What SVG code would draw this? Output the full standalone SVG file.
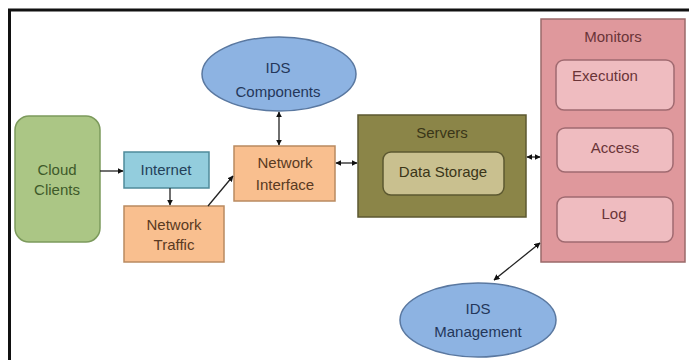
<svg xmlns="http://www.w3.org/2000/svg" width="689" height="360" viewBox="0 0 689 360">
<style>
text{font-family:"Liberation Sans",Arial,sans-serif;font-size:15px;text-anchor:middle}
.orange{fill:#f9bf8f;stroke:#b98a60;stroke-width:1.5}
.ell{fill:#8db3e2;stroke:#5a78a0;stroke-width:1.5}
.pinkin{fill:#efbcc0;stroke:#a06a70;stroke-width:1.5}
.conn{stroke:#222;stroke-width:1.3;fill:none}
.tOr{fill:#5a3a22}
.tBl{fill:#24375a}
.tPk{fill:#6a3438}
</style>
<defs>
<marker id="ah" viewBox="0 0 10 10" refX="9" refY="5" markerWidth="6" markerHeight="6" orient="auto-start-reverse" markerUnits="userSpaceOnUse">
<path d="M0,0 L10,5 L0,10 z" fill="#111"/>
</marker>
</defs>
<rect width="689" height="360" fill="#fff"/>
<path d="M9.5,362 V10 H692" fill="none" stroke="#111" stroke-width="3"/>

<g id="cloud-clients">
<rect x="15" y="116" width="85" height="126" rx="14" fill="#abc685" stroke="#7c9a5c" stroke-width="1.5"/>
<text x="57" y="175" fill="#3e5a2a">Cloud</text>
<text x="57" y="195" fill="#3e5a2a">Clients</text>
</g>
<g id="internet">
<rect x="124" y="152" width="85" height="36" fill="#93cddd" stroke="#4f8a9a" stroke-width="1.5"/>
<text x="166" y="175" fill="#24415a">Internet</text>
</g>
<g id="network-traffic">
<rect class="orange" x="124" y="206" width="100" height="56"/>
<text class="tOr" x="174" y="230">Network</text>
<text class="tOr" x="174" y="250">Traffic</text>
</g>
<g id="network-interface">
<rect class="orange" x="234" y="146" width="101" height="55"/>
<text class="tOr" x="285" y="168">Network</text>
<text class="tOr" x="285" y="190">Interface</text>
</g>
<g id="ids-components">
<ellipse class="ell" cx="279" cy="74" rx="77" ry="37"/>
<text class="tBl" x="278" y="73">IDS</text>
<text class="tBl" x="278" y="97">Components</text>
</g>
<g id="servers">
<rect x="358" y="115" width="168" height="102" fill="#8b8548" stroke="#5c5830" stroke-width="1.5"/>
<text x="442" y="138" fill="#3a3518">Servers</text>
</g>
<g id="data-storage">
<rect x="383" y="152" width="121" height="43" rx="8" fill="#c9c08f" stroke="#5c5830" stroke-width="1.5"/>
<text x="443" y="177" fill="#3a3518">Data Storage</text>
</g>
<g id="monitors">
<rect x="541" y="19" width="144" height="243" fill="#df989c" stroke="#9a6a6a" stroke-width="1.5"/>
<text class="tPk" x="613" y="42">Monitors</text>
</g>
<g id="execution">
<rect class="pinkin" x="556" y="60" width="118" height="50" rx="8"/>
<text class="tPk" x="605" y="81">Execution</text>
</g>
<g id="access">
<rect class="pinkin" x="557" y="128" width="116" height="44" rx="8"/>
<text class="tPk" x="615" y="153">Access</text>
</g>
<g id="log">
<rect class="pinkin" x="557" y="197" width="116" height="45" rx="8"/>
<text class="tPk" x="614" y="219">Log</text>
</g>
<g id="ids-management">
<ellipse class="ell" cx="478" cy="320" rx="78" ry="37"/>
<text class="tBl" x="478" y="314">IDS</text>
<text class="tBl" x="478" y="337">Management</text>
</g>

<g id="connectors">
<line class="conn" x1="100" y1="171" x2="123" y2="171" marker-end="url(#ah)"/>
<line class="conn" x1="170" y1="188" x2="170" y2="205" marker-end="url(#ah)"/>
<line class="conn" x1="208" y1="206" x2="233" y2="176" marker-end="url(#ah)"/>
<line class="conn" x1="279" y1="112" x2="279" y2="145" marker-start="url(#ah)" marker-end="url(#ah)"/>
<line class="conn" x1="336" y1="163" x2="357" y2="163" marker-start="url(#ah)" marker-end="url(#ah)"/>
<line class="conn" x1="527" y1="157" x2="540" y2="157" marker-start="url(#ah)" marker-end="url(#ah)"/>
<line class="conn" x1="540" y1="243" x2="494" y2="280" marker-start="url(#ah)" marker-end="url(#ah)"/>
</g>
</svg>
